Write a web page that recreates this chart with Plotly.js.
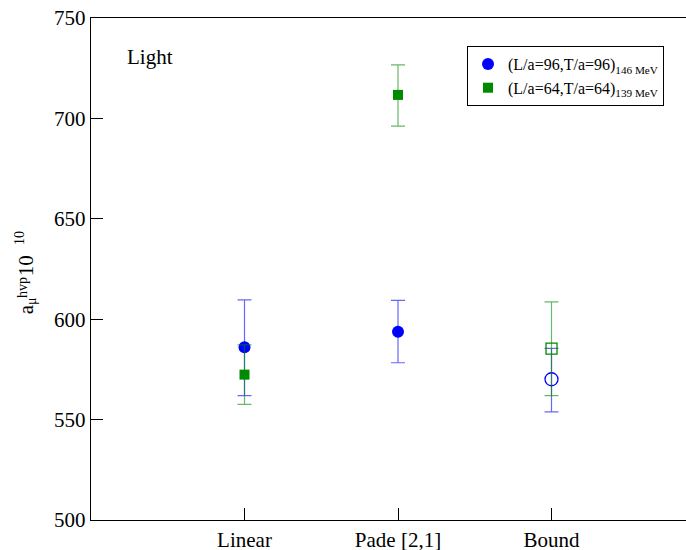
<!DOCTYPE html>
<html>
<head>
<meta charset="utf-8">
<script src="https://cdn.plot.ly/plotly-3.0.1.min.js"></script>
<style>
html,body{margin:0;padding:0;overflow:hidden;background:#fff;width:686px;height:550px;}
#plot{width:710px;height:562px;}
</style>
</head>
<body>
<div id="plot"></div>
<script>
// ---- data ----
const categories = ['Linear', 'Pade [2,1]', 'Bound'];
const xPos = [1, 2, 3];
const tickVals = [1, 2, 3];

// L/a=96, T/a=96 (146 MeV)
const blueVal   = [586.0, 593.8, 570.1];
const blueErrP  = [23.6, 15.6, 15.4];
const blueErrM  = [24.1, 15.5, 16.3];
const blueOpen  = [false, false, true];

// L/a=64, T/a=64 (139 MeV)
const greenVal  = [572.4, 711.7, 585.3];
const greenErrP = [14.8, 15.0, 23.3];
const greenErrM = [14.8, 15.5, 23.4];
const greenOpen = [false, false, true];

const blueName  = '(L/a=96,T/a=96)<sub>146 MeV</sub>';
const greenName = '(L/a=64,T/a=64)<sub>139 MeV</sub>';

// ---- styling ----
const FONT = 'Liberation Serif';
const BLUE = '#0000ff', BLUE_ERR = 'rgba(0,0,255,0.6)';
const GREEN = '#008a00', GREEN_ERR = 'rgba(0,138,0,0.6)';

const L = 91, T = 18, W = 710, H = 562, PW = 614, PH = 502;
const px = v => (v - L) / PW;
const py = v => (T + PH - v) / PH;

function pick(arr, mask, want) { return arr.filter((_, i) => mask[i] === want); }

function makeTrace(vals, ep, em, open, wantOpen, color, errColor, symbol, size, name, showleg) {
  return {
    type: 'scatter', mode: 'markers',
    x: pick(xPos, open, wantOpen), y: pick(vals, open, wantOpen),
    name: name, showlegend: showleg, cliponaxis: false,
    marker: { symbol: symbol, size: size, color: color, line: { color: color, width: wantOpen ? 1.3 : 0 } },
    error_y: { type: 'data', symmetric: false, array: pick(ep, open, wantOpen), arrayminus: pick(em, open, wantOpen),
               color: errColor, thickness: 1.2, width: 7 }
  };
}

const traces = [
  makeTrace(blueVal, blueErrP, blueErrM, blueOpen, false, BLUE, BLUE_ERR, 'circle', 12, blueName, true),
  makeTrace(blueVal, blueErrP, blueErrM, blueOpen, true, BLUE, BLUE_ERR, 'circle-open', 13, blueName, false),
  makeTrace(greenVal, greenErrP, greenErrM, greenOpen, false, GREEN, GREEN_ERR, 'square', 10, greenName, true),
  makeTrace(greenVal, greenErrP, greenErrM, greenOpen, true, GREEN, GREEN_ERR, 'square-open', 11, greenName, false)
];

function ytitle(text, cx, cy, size) {
  return { xref: 'paper', yref: 'paper', x: px(cx), y: py(cy), xanchor: 'center', yanchor: 'middle',
           text: text, showarrow: false, textangle: -90, font: { family: FONT, size: size, color: '#000' } };
}

const layout = {
  width: W, height: H,
  margin: { l: L, r: W - L - PW, t: T, b: H - T - PH, pad: 0 },
  paper_bgcolor: '#fff', plot_bgcolor: '#fff',
  font: { family: FONT, color: '#000' },
  showlegend: true,
  legend: {
    x: px(467), y: py(46), xanchor: 'left', yanchor: 'top',
    bgcolor: '#fff', bordercolor: '#000', borderwidth: 1,
    font: { family: FONT, size: 16, color: '#000' }
  },
  xaxis: {
    range: [0, 4], tickmode: 'array', tickvals: tickVals, ticktext: categories,
    ticks: 'inside', ticklen: 12, tickwidth: 1, tickcolor: '#000',
    showline: true, linecolor: '#000', linewidth: 1.3, mirror: true,
    showgrid: false, zeroline: false,
    tickfont: { family: FONT, size: 21, color: '#000' }
  },
  yaxis: {
    range: [500, 750], dtick: 50, tick0: 500,
    ticks: 'inside', ticklen: 12, tickwidth: 1, tickcolor: '#000',
    showline: true, linecolor: '#000', linewidth: 1.3, mirror: true,
    showgrid: false, zeroline: false,
    tickfont: { family: FONT, size: 21, color: '#000' }
  },
  annotations: [
    { xref: 'paper', yref: 'paper', x: px(150), y: py(57), xanchor: 'center', yanchor: 'middle',
      text: 'Light', showarrow: false, font: { family: FONT, size: 21, color: '#000' } },
    ytitle('a', 26.2, 309, 21),
    ytitle('μ', 31.1, 301, 14),
    ytitle('hvp', 22.1, 288, 14),
    ytitle('10', 26.2, 266, 21),
    ytitle('10', 19.1, 238, 14)
  ]
};

Plotly.newPlot('plot', traces, layout, { displayModeBar: false, staticPlot: true });
</script>
</body>
</html>
